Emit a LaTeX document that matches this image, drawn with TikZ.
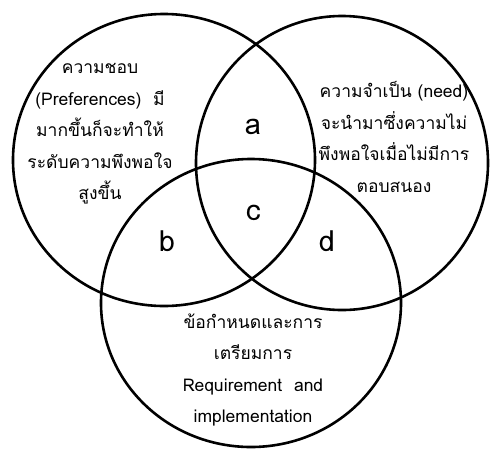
\documentclass[tikz,border=0pt]{standalone}
\usepackage{fontspec}
\newfontfamily\thaifont[Script=Thai]{Loma}
\begin{document}
\begin{tikzpicture}[x=1pt,y=-1pt,
  ring/.style={line width=2.6pt,draw=black},
  blurb/.style={font=\thaifont\fontsize{17.5}{31.5}\selectfont,align=center,inner sep=0pt},
  zone/.style={font=\thaifont\fontsize{29}{30}\selectfont,inner sep=0pt}]
  \useasboundingbox (0,0) rectangle (492,448);
  % three overlapping sets
  \draw[ring] (164,160) ellipse [x radius=151, y radius=146];
  \draw[ring] (342,163) ellipse [x radius=146, y radius=147];
  \draw[ring] (251,303) ellipse [x radius=150, y radius=144];
  % set descriptions
  \node[blurb] (pref) at (100,134) {ความชอบ\\(Preferences)~~มี\\มากขึ้นก็จะทำให้\\ระดับความพึงพอใจ\\สูงขึ้น};
  \node[blurb] (need) at (394,137) {ความจำเป็น (need)\\จะนำมาซึ่งความไม่\\พึงพอใจเมื่อไม่มีการ\\ตอบสนอง};
  \node[blurb] (req) at (253,370) {ข้อกำหนดและการ\\เตรียมการ\\Requirement~~and\\implementation};
  % overlap labels
  \node[zone] (a) at (253,127) {a};
  \node[zone] (c) at (253,213) {c};
  \node[zone] (b) at (167,241) {b};
  \node[zone] (d) at (327,241) {d};
\end{tikzpicture}
\end{document}
